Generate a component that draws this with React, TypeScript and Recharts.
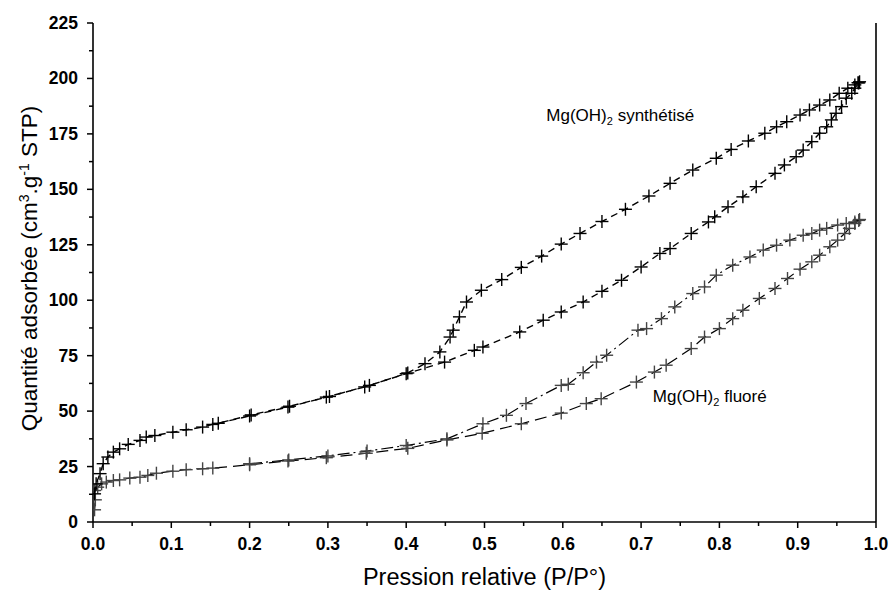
import { ScatterChart, Scatter, XAxis, YAxis, ReferenceLine, ReferenceDot, Label } from 'recharts'

// [P/P°, quantité adsorbée]
const synthAds = [
  [0.002, 12.7], [0.004, 17.2], [0.009, 21.8], [0.013, 26.3], [0.019, 29.3], [0.026, 31.5],
  [0.034, 33], [0.045, 35], [0.06, 36.8], [0.068, 38.3], [0.079, 39], [0.102, 40.5],
  [0.119, 41.6], [0.14, 42.8], [0.153, 44], [0.2, 47.8], [0.249, 51.8], [0.298, 56.3],
  [0.347, 60.9], [0.4, 66.9], [0.449, 72.1], [0.487, 77.4], [0.498, 78.9], [0.545, 85.7],
  [0.575, 91], [0.598, 94.7], [0.626, 99.2], [0.65, 104], [0.675, 109], [0.7, 115],
  [0.724, 121.1], [0.737, 123.3], [0.764, 130.1], [0.786, 135.3], [0.794, 137.6], [0.811, 142.1],
  [0.83, 146.6], [0.847, 151.2], [0.871, 157.2], [0.883, 161], [0.898, 164.7], [0.907, 167.7],
  [0.918, 171.5], [0.928, 175.3], [0.937, 178.2], [0.943, 181.3], [0.949, 184.3], [0.956, 187.3],
  [0.962, 191.1], [0.969, 193.3], [0.973, 195.6], [0.978, 198],
]

const synthDes = [
  [0.979, 198.5], [0.977, 198.1], [0.973, 197.1], [0.964, 195.6], [0.953, 193.3], [0.941, 190.3],
  [0.928, 188], [0.915, 185.8], [0.903, 183.5], [0.886, 180.5], [0.873, 178.2], [0.858, 175.3],
  [0.837, 171.8], [0.815, 168], [0.796, 164], [0.766, 158.7], [0.737, 152.7], [0.71, 147],
  [0.68, 141], [0.65, 135.5], [0.622, 130.1], [0.598, 125.3], [0.573, 119.9], [0.547, 114.8],
  [0.522, 109.3], [0.496, 104.5], [0.477, 99.2], [0.468, 92.5], [0.46, 86.5], [0.456, 83.4],
  [0.443, 76.7], [0.424, 71.4], [0.402, 67.2], [0.353, 61.6], [0.302, 56.6], [0.251, 52.2],
  [0.202, 48.3], [0.16, 44.5],
]

const fluoAds = [
  [0.002, 5.5], [0.003, 10], [0.002, 14.2], [0.006, 15.7], [0.011, 17.2], [0.017, 18],
  [0.026, 18.7], [0.034, 19], [0.047, 19.8], [0.06, 20.2], [0.07, 21], [0.081, 22],
  [0.102, 22.9], [0.119, 23.6], [0.14, 24], [0.153, 24.3], [0.2, 25.8], [0.249, 27.5],
  [0.298, 29], [0.349, 31], [0.402, 33.2], [0.452, 37], [0.497, 40], [0.547, 44.3],
  [0.598, 49.1], [0.63, 53.4], [0.649, 55.6], [0.694, 63.1], [0.717, 67.6], [0.732, 70.7],
  [0.764, 78.2], [0.781, 83.4], [0.8, 87.2], [0.817, 91.7], [0.83, 95.5], [0.851, 100.8],
  [0.871, 105.3], [0.887, 109.8], [0.903, 114], [0.918, 117.3], [0.928, 120.3], [0.941, 124.1],
  [0.951, 127.1], [0.96, 130.1], [0.966, 132.4], [0.973, 134.6], [0.978, 136],
]

const fluoDes = [
  [0.979, 136.4], [0.973, 135.3], [0.962, 134.6], [0.951, 133.9], [0.937, 132.4], [0.928, 131.6],
  [0.918, 130.1], [0.907, 129.3], [0.89, 127.1], [0.873, 124.8], [0.856, 122.6], [0.839, 119.5],
  [0.817, 115.8], [0.796, 111.3], [0.781, 106], [0.766, 103], [0.743, 97], [0.726, 91.7],
  [0.707, 87.2], [0.696, 86.5], [0.656, 75.2], [0.643, 72.1], [0.626, 67.3], [0.607, 62.1],
  [0.598, 61.6], [0.553, 53.4], [0.528, 48.1], [0.498, 44.3], [0.452, 37.5], [0.4, 34.5],
  [0.35, 32], [0.3, 29.8], [0.25, 28], [0.2, 26.3],
]

const xTicks = [0, 0.05, 0.1, 0.15, 0.2, 0.25, 0.3, 0.35, 0.4, 0.45, 0.5, 0.55, 0.6, 0.65, 0.7, 0.75, 0.8, 0.85, 0.9, 0.95, 1]
const yTicks = [0, 12.5, 25, 37.5, 50, 62.5, 75, 87.5, 100, 112.5, 125, 137.5, 150, 162.5, 175, 187.5, 200, 212.5, 225]

const notes = [
  { p: 0.579, q: 181, label: 'synthétisé' },
  { p: 0.715, q: 54, label: 'fluoré' },
]

const FONT = '"Liberation Sans", Arial, sans-serif'

const toRows = (pts: number[][]) => pts.map(([p, q]) => ({ p, q }))

function cross(color: string) {
  return (props: any) => {
    const { cx, cy } = props
    if (cx == null || cy == null) return null
    const s = 6.5
    return (
      <g stroke={color} strokeWidth={1.4}>
        <line x1={cx - s} y1={cy} x2={cx + s} y2={cy} />
        <line x1={cx} y1={cy - s} x2={cx} y2={cy + s} />
      </g>
    )
  }
}

const isMajorX = (v: number) => Math.abs(v * 10 - Math.round(v * 10)) < 1e-6
const isMajorY = (v: number) => v % 25 === 0

function XTick(props: any) {
  const { x, y, payload } = props
  const major = isMajorX(payload.value)
  return (
    <g>
      <line x1={x} y1={y} x2={x} y2={y + (major ? 6 : 4)} stroke="#000" strokeWidth={1.5} />
      {major && (
        <text x={x} y={y + 28} textAnchor="middle" fontFamily={FONT} fontSize={17.5} fontWeight="bold" fill="#000">
          {payload.value.toFixed(1)}
        </text>
      )}
    </g>
  )
}

function YTick(props: any) {
  const { x, y, payload } = props
  const major = isMajorY(payload.value)
  return (
    <g>
      <line x1={x} y1={y} x2={x - (major ? 6 : 4)} y2={y} stroke="#000" strokeWidth={1.5} />
      {major && (
        <text x={x - 15} y={y + 6} textAnchor="end" fontFamily={FONT} fontSize={17.5} fontWeight="bold" fill="#000">
          {payload.value}
        </text>
      )}
    </g>
  )
}

function Note(label: string) {
  return (props: any) => {
    const { cx, cy } = props
    return (
      <text x={cx} y={cy} fontFamily={FONT} fontSize={17} fill="#000">
        Mg(OH)
        <tspan fontSize={11} dy={4}>2</tspan>
        <tspan dy={-4}> {label}</tspan>
      </text>
    )
  }
}

export default function App() {
  return (
    <div style={{ position: 'absolute', left: 0, top: 0, background: '#fff' }}>
      <ScatterChart width={889} height={594} margin={{ top: 23, right: 13, bottom: 0, left: 0 }}>
        <XAxis
          type="number"
          dataKey="p"
          domain={[0, 1]}
          ticks={xTicks}
          interval={0}
          tickSize={0}
          tickMargin={0}
          tick={<XTick />}
          height={72}
          stroke="#000"
          strokeWidth={1.6}
          allowDataOverflow
        >
          <Label
            content={(props: any) => {
              const vb = props.viewBox
              return (
                <text x={vb.x + vb.width / 2} y={vb.y + 63} textAnchor="middle" fontFamily={FONT} fontSize={23.5} fill="#000">
                  Pression relative (P/P°)
                </text>
              )
            }}
          />
        </XAxis>
        <YAxis
          type="number"
          dataKey="q"
          domain={[0, 225]}
          ticks={yTicks}
          interval={0}
          tickSize={0}
          tickMargin={0}
          tick={<YTick />}
          width={93}
          stroke="#000"
          strokeWidth={1.6}
          allowDataOverflow
        >
          <Label
            content={(props: any) => {
              const vb = props.viewBox
              const cx = 37
              const cy = vb.y + vb.height / 2 - 4
              return (
                <text
                  x={cx}
                  y={cy}
                  transform={`rotate(-90 ${cx} ${cy})`}
                  textAnchor="middle"
                  fontFamily={FONT}
                  fontSize={22.5}
                  fill="#000"
                >
                  Quantité adsorbée (cm
                  <tspan fontSize={14} dy={-8}>3</tspan>
                  <tspan dy={8}>.g</tspan>
                  <tspan fontSize={14} dy={-8}>-1</tspan>
                  <tspan dy={8}> STP)</tspan>
                </text>
              )
            }}
          />
        </YAxis>
        <ReferenceLine x={1} stroke="#000" strokeWidth={1.6} />
        <Scatter
          data={toRows(fluoAds)}
          isAnimationActive={false}
          shape={cross('#444')}
          line={{ stroke: '#000', strokeWidth: 1.2, strokeDasharray: '12 6' }}
          lineType="joint"
        />
        <Scatter
          data={toRows(fluoDes)}
          isAnimationActive={false}
          shape={cross('#444')}
          line={{ stroke: '#000', strokeWidth: 1.2, strokeDasharray: '12 4 2 4' }}
          lineType="joint"
        />
        <Scatter
          data={toRows(synthAds)}
          isAnimationActive={false}
          shape={cross('#000')}
          line={{ stroke: '#000', strokeWidth: 1.4, strokeDasharray: '7 5' }}
          lineType="joint"
        />
        <Scatter
          data={toRows(synthDes)}
          isAnimationActive={false}
          shape={cross('#000')}
          line={{ stroke: '#000', strokeWidth: 1.4, strokeDasharray: '7 5' }}
          lineType="joint"
        />
        {notes.map((n) => (
          <ReferenceDot key={n.label} x={n.p} y={n.q} r={0} shape={Note(n.label)} />
        ))}
      </ScatterChart>
    </div>
  )
}
